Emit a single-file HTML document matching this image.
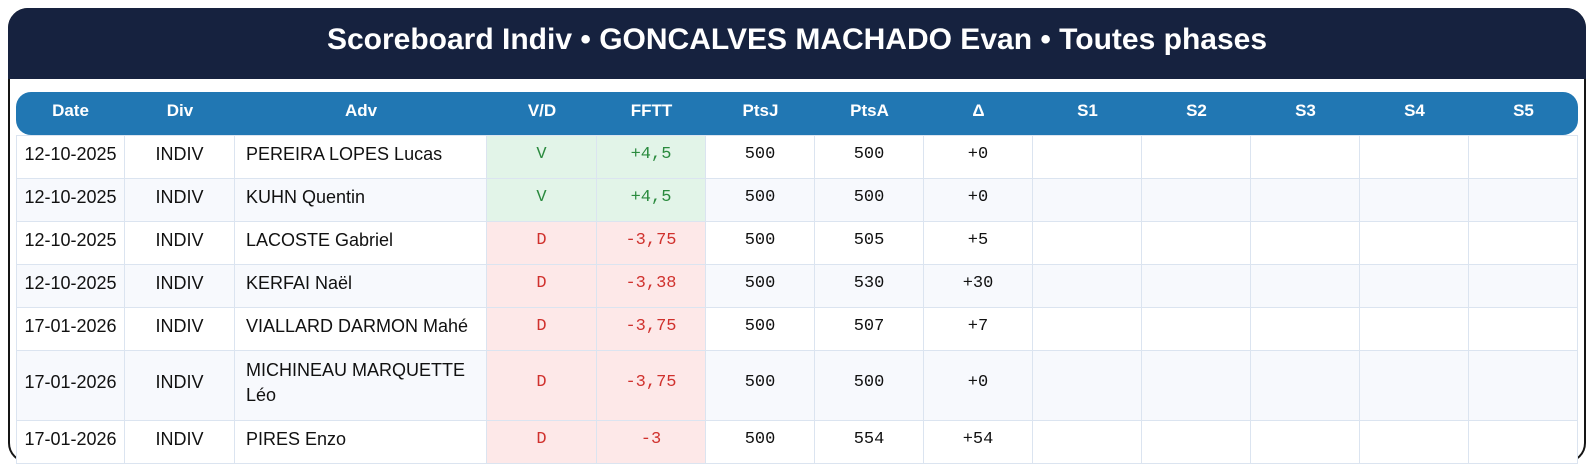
<!DOCTYPE html>
<html>
<head>
<meta charset="utf-8">
<style>
  html, body { margin:0; padding:0; background:#ffffff; }
  body { width:1593px; height:470px; position:relative; overflow:hidden; font-family:"Liberation Sans", Arial, sans-serif; }
  .card { position:absolute; left:8px; top:8px; width:1578px; height:455px; box-sizing:border-box; border:2px solid #151515; border-radius:20px; background:#fff; }
  .navy { position:absolute; left:8px; top:8px; width:1578px; height:71px; background:#16223f; border-radius:20px 20px 0 0; }
  .title { position:absolute; left:8px; top:23px; width:1578px; text-align:center; color:#fff; font-weight:bold; font-size:30px; line-height:34px; white-space:nowrap; }
  .hdr { position:absolute; left:16px; top:92px; width:1562px; height:43px; background:#2177b3; border-radius:15px; display:flex; }
  .hdr div { box-sizing:border-box; height:43px; line-height:38px; text-align:center; color:#fff; font-weight:bold; font-size:17px; }
  .tbl { position:absolute; left:16px; top:135px; width:1562px; box-sizing:border-box; border-top:1px solid #dbe4f0; border-left:1px solid #dbe4f0; }
  .row { display:flex; height:43px; background:#fff; }
  .row.tall { height:70px; }
  .row.alt { background:#f7f9fd; }
  .c { box-sizing:border-box; border-right:1px solid #dbe4f0; border-bottom:1px solid #dbe4f0; display:flex; align-items:center; justify-content:center; padding:0 0 6px 0; font-size:18px; line-height:25px; color:#111; }
  .c.l { justify-content:flex-start; padding-left:11px; padding-right:11px; }
  .m { font-family:"Liberation Mono", "DejaVu Sans Mono", monospace; font-size:17px; }
  .g { background:#e2f4e8; color:#2a8a3e; }
  .r { background:#fde8e8; color:#d0312d; }
  .w1 { width:109px; } .w2 { width:110px; } .w3 { width:252px; }
</style>
</head>
<body>
<div class="card"></div>
<div class="navy"></div>
<div class="title">Scoreboard Indiv • GONCALVES MACHADO Evan • Toutes phases</div>

<div class="hdr">
  <div class="w1">Date</div>
  <div class="w2">Div</div>
  <div class="w3">Adv</div>
  <div class="w2">V/D</div>
  <div class="w1">FFTT</div>
  <div class="w1">PtsJ</div>
  <div class="w1">PtsA</div>
  <div class="w1">Δ</div>
  <div class="w1">S1</div>
  <div class="w1">S2</div>
  <div class="w1">S3</div>
  <div class="w1">S4</div>
  <div class="w1">S5</div>
</div>

<div class="tbl">
  <div class="row">
    <div class="c w1" style="width:108px">12-10-2025</div><div class="c w2">INDIV</div><div class="c l w3">PEREIRA LOPES Lucas</div>
    <div class="c m g w2">V</div><div class="c m g w1">+4,5</div><div class="c m w1">500</div><div class="c m w1">500</div><div class="c m w1">+0</div>
    <div class="c w1"></div><div class="c w1"></div><div class="c w1"></div><div class="c w1"></div><div class="c w1"></div>
  </div>
  <div class="row alt">
    <div class="c w1" style="width:108px">12-10-2025</div><div class="c w2">INDIV</div><div class="c l w3">KUHN Quentin</div>
    <div class="c m g w2">V</div><div class="c m g w1">+4,5</div><div class="c m w1">500</div><div class="c m w1">500</div><div class="c m w1">+0</div>
    <div class="c w1"></div><div class="c w1"></div><div class="c w1"></div><div class="c w1"></div><div class="c w1"></div>
  </div>
  <div class="row">
    <div class="c w1" style="width:108px">12-10-2025</div><div class="c w2">INDIV</div><div class="c l w3">LACOSTE Gabriel</div>
    <div class="c m r w2">D</div><div class="c m r w1">-3,75</div><div class="c m w1">500</div><div class="c m w1">505</div><div class="c m w1">+5</div>
    <div class="c w1"></div><div class="c w1"></div><div class="c w1"></div><div class="c w1"></div><div class="c w1"></div>
  </div>
  <div class="row alt">
    <div class="c w1" style="width:108px">12-10-2025</div><div class="c w2">INDIV</div><div class="c l w3">KERFAI Naël</div>
    <div class="c m r w2">D</div><div class="c m r w1">-3,38</div><div class="c m w1">500</div><div class="c m w1">530</div><div class="c m w1">+30</div>
    <div class="c w1"></div><div class="c w1"></div><div class="c w1"></div><div class="c w1"></div><div class="c w1"></div>
  </div>
  <div class="row">
    <div class="c w1" style="width:108px">17-01-2026</div><div class="c w2">INDIV</div><div class="c l w3">VIALLARD DARMON Mahé</div>
    <div class="c m r w2">D</div><div class="c m r w1">-3,75</div><div class="c m w1">500</div><div class="c m w1">507</div><div class="c m w1">+7</div>
    <div class="c w1"></div><div class="c w1"></div><div class="c w1"></div><div class="c w1"></div><div class="c w1"></div>
  </div>
  <div class="row alt tall">
    <div class="c w1" style="width:108px">17-01-2026</div><div class="c w2">INDIV</div><div class="c l w3">MICHINEAU MARQUETTE Léo</div>
    <div class="c m r w2">D</div><div class="c m r w1">-3,75</div><div class="c m w1">500</div><div class="c m w1">500</div><div class="c m w1">+0</div>
    <div class="c w1"></div><div class="c w1"></div><div class="c w1"></div><div class="c w1"></div><div class="c w1"></div>
  </div>
  <div class="row">
    <div class="c w1" style="width:108px">17-01-2026</div><div class="c w2">INDIV</div><div class="c l w3">PIRES Enzo</div>
    <div class="c m r w2">D</div><div class="c m r w1">-3</div><div class="c m w1">500</div><div class="c m w1">554</div><div class="c m w1">+54</div>
    <div class="c w1"></div><div class="c w1"></div><div class="c w1"></div><div class="c w1"></div><div class="c w1"></div>
  </div>
</div>
</body>
</html>
